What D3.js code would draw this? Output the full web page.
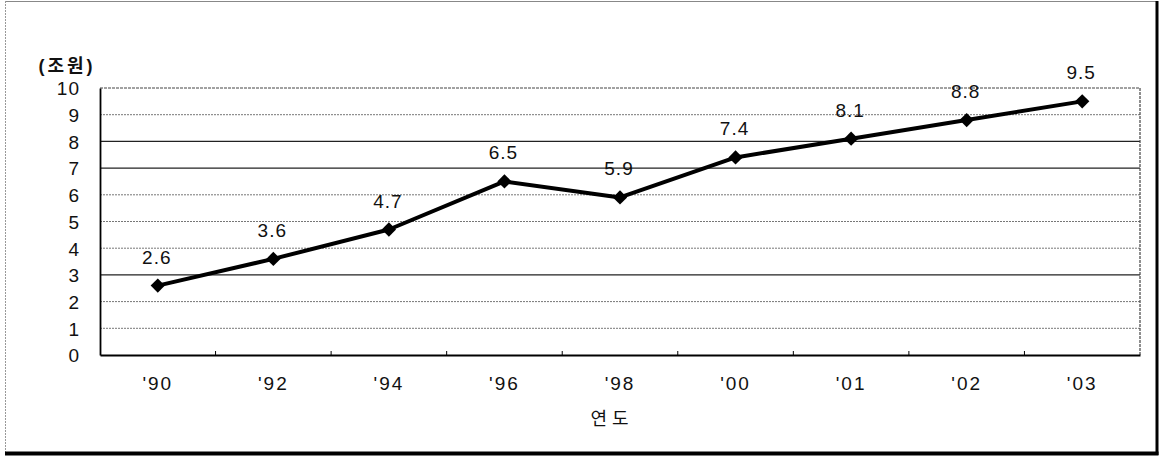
<!DOCTYPE html>
<html>
<head>
<meta charset="utf-8">
<script src="https://cdn.jsdelivr.net/npm/d3@7/dist/d3.min.js"></script>
<style>
  html, body { margin: 0; padding: 0; background: #fff; }
  svg { display: block; }
  text { font-family: Arial, "Liberation Sans", "Noto Sans CJK KR", sans-serif; fill: #111; }
</style>
</head>
<body>
<svg id="chart" width="1161" height="457"></svg>
<script>
// Yearly amounts (unit: 조원)
const years = ["'90", "'92", "'94", "'96", "'98", "'00", "'01", "'02", "'03"];
const amounts = [2.6, 3.6, 4.7, 6.5, 5.9, 7.4, 8.1, 8.8, 9.5];
const yTicks = [0, 1, 2, 3, 4, 5, 6, 7, 8, 9, 10];
const solidGrid = [3, 7, 8];
const unitLabel = "(조원)";
const xTitle = "연도";

const svg = d3.select("#chart");
const plot = { left: 100, right: 1140, top: 88, bottom: 355 };

// Outer frame: thin light top/left edges, heavy right/bottom edges
svg.append("line").attr("x1", 5).attr("x2", 1157).attr("y1", 1.5).attr("y2", 1.5)
  .attr("stroke", "#888").attr("stroke-width", 1.2);
svg.append("line").attr("x1", 5.5).attr("x2", 5.5).attr("y1", 1).attr("y2", 452)
  .attr("stroke", "#999").attr("stroke-width", 1).attr("stroke-dasharray", "2,1");
svg.append("line").attr("x1", 1157).attr("x2", 1157).attr("y1", 1).attr("y2", 455)
  .attr("stroke", "#000").attr("stroke-width", 3);
svg.append("line").attr("x1", 5).attr("x2", 1158.5).attr("y1", 453.5).attr("y2", 453.5)
  .attr("stroke", "#000").attr("stroke-width", 4);

const x = d3.scaleBand().domain(years).range([plot.left, plot.right]);
const y = d3.scaleLinear().domain([0, 10]).range([plot.bottom, plot.top]);

// Horizontal gridlines
svg.append("g").selectAll("line")
  .data(yTicks.filter(t => t > 0 && t < 10))
  .join("line")
  .attr("x1", plot.left).attr("x2", plot.right)
  .attr("y1", d => y(d)).attr("y2", d => y(d))
  .attr("stroke", d => solidGrid.includes(d) ? "#222" : "#777")
  .attr("stroke-width", d => solidGrid.includes(d) ? 1.1 : 1)
  .attr("stroke-dasharray", d => solidGrid.includes(d) ? null : "2,1");

// Plot area border: top and right thin dotted, left and bottom as axis lines
svg.append("line").attr("x1", plot.left).attr("x2", plot.right)
  .attr("y1", plot.top).attr("y2", plot.top)
  .attr("stroke", "#444").attr("stroke-width", 1).attr("stroke-dasharray", "3,1");
svg.append("line").attr("x1", plot.right).attr("x2", plot.right)
  .attr("y1", plot.top).attr("y2", plot.bottom)
  .attr("stroke", "#444").attr("stroke-width", 1.2).attr("stroke-dasharray", "3,1");

// Y axis
const yAxis = svg.append("g").attr("transform", `translate(${plot.left},0)`)
  .call(d3.axisLeft(y).tickValues(yTicks).tickSize(0).tickPadding(20).tickFormat(d3.format("d")));
yAxis.select(".domain").attr("stroke", "#000").attr("stroke-width", 1.8);
yAxis.selectAll("text").attr("font-size", 19).attr("fill", "#111").attr("dy", "0.36em")
  .attr("letter-spacing", "1px");

// X axis with category-boundary ticks pointing inward
const xAxis = svg.append("g").attr("transform", `translate(0,${plot.bottom})`)
  .call(d3.axisBottom(x).tickSize(0).tickPadding(22));
xAxis.select(".domain").attr("stroke", "#000").attr("stroke-width", 1.8);
xAxis.selectAll("text").attr("font-size", 19).attr("fill", "#111").attr("letter-spacing", "2px");
svg.append("g").selectAll("line")
  .data(years.slice(1))
  .join("line")
  .attr("x1", d => x(d)).attr("x2", d => x(d))
  .attr("y1", plot.bottom).attr("y2", plot.bottom - 4)
  .attr("stroke", "#000").attr("stroke-width", 1);

// Unit label and x title
svg.append("text").attr("x", 67).attr("y", 72).attr("text-anchor", "middle")
  .attr("font-size", 18).attr("letter-spacing", "3px").attr("font-weight", "bold").text(unitLabel);
svg.append("text").attr("x", 612).attr("y", 425).attr("text-anchor", "middle")
  .attr("font-size", 18).attr("letter-spacing", "5px").text(xTitle);

// Series line
const cx = (d, i) => x(years[i]) + x.bandwidth() / 2;
const line = d3.line().x((d, i) => cx(d, i)).y(d => y(d));
svg.append("path").datum(amounts)
  .attr("d", line).attr("fill", "none")
  .attr("stroke", "#000").attr("stroke-width", 4).attr("stroke-linejoin", "round");

// Diamond markers
svg.append("g").selectAll("path")
  .data(amounts)
  .join("path")
  .attr("transform", (d, i) => `translate(${cx(d, i)},${y(d)})`)
  .attr("d", d3.symbol().type(d3.symbolDiamond2).size(130))
  .attr("fill", "#000");

// Value labels
svg.append("g").selectAll("text")
  .data(amounts)
  .join("text")
  .attr("x", (d, i) => cx(d, i) - 1)
  .attr("y", d => y(d) - 22)
  .attr("text-anchor", "middle")
  .attr("font-size", 19)
  .attr("letter-spacing", "1px")
  .text(d => d3.format(".1f")(d));
</script>
</body>
</html>
